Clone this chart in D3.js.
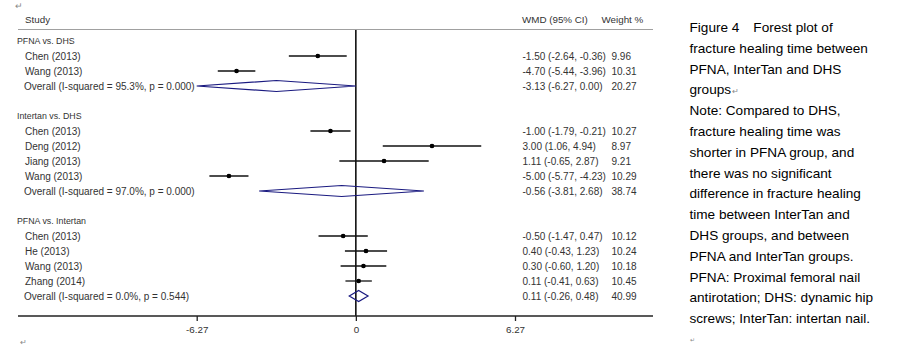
<!DOCTYPE html>
<html><head><meta charset="utf-8">
<script src="https://cdn.jsdelivr.net/npm/d3@7"></script>
<style>
html,body{margin:0;padding:0;background:#fff;}
svg{display:block;}
text{font-family:"Liberation Sans",Arial,sans-serif;}
</style></head>
<body>
<svg id="chart" width="901" height="348"></svg>
<script>
// ---------- data ----------
const groupNames = ["PFNA vs. DHS", "Intertan vs. DHS", "PFNA vs. Intertan"];
const studyGroup = [0, 0, 1, 1, 1, 1, 2, 2, 2, 2];
const studyNames = ["Chen (2013)", "Wang (2013)", "Chen (2013)", "Deng (2012)", "Jiang (2013)", "Wang (2013)", "Chen (2013)", "He (2013)", "Wang (2013)", "Zhang (2014)"];
const studyWMD  = [-1.50, -4.70, -1.00, 3.00, 1.11, -5.00, -0.50, 0.40, 0.30, 0.11];
const studyLow  = [-2.64, -5.44, -1.79, 1.06, -0.65, -5.77, -1.47, -0.43, -0.60, -0.41];
const studyHigh = [-0.36, -3.96, -0.21, 4.94, 2.87, -4.23, 0.47, 1.23, 1.20, 0.63];
const studyWeight = ["9.96", "10.31", "10.27", "8.97", "9.21", "10.29", "10.12", "10.24", "10.18", "10.45"];
const overallLabels = ["Overall (I-squared = 95.3%, p = 0.000)", "Overall (I-squared = 97.0%, p = 0.000)", "Overall (I-squared = 0.0%, p = 0.544)"];
const overallWMD  = [-3.13, -0.56, 0.11];
const overallLow  = [-6.27, -3.81, -0.26];
const overallHigh = [0.00, 2.68, 0.48];
const overallWeight = ["20.27", "38.74", "40.99"];
const axisTicks = [-6.27, 0, 6.27];
const captionLines = [
  "Figure 4\u3000Forest plot of",
  "fracture healing time between",
  "PFNA, InterTan and DHS",
  "groups",
  "Note: Compared to DHS,",
  "fracture healing time was",
  "shorter in PFNA group, and",
  "there was no significant",
  "difference in fracture healing",
  "time between InterTan and",
  "DHS groups, and between",
  "PFNA and InterTan groups.",
  "PFNA: Proximal femoral nail",
  "antirotation; DHS: dynamic hip",
  "screws; InterTan: intertan nail."
];

// ---------- build rows ----------
const rows = [];
groupNames.forEach((g, gi) => {
  rows.push({type: "group", label: g});
  studyNames.forEach((s, i) => {
    if (studyGroup[i] === gi) rows.push({type: "study", label: s, est: studyWMD[i], lo: studyLow[i], hi: studyHigh[i], w: studyWeight[i]});
  });
  rows.push({type: "overall", label: overallLabels[gi], est: overallWMD[gi], lo: overallLow[gi], hi: overallHigh[gi], w: overallWeight[gi]});
  if (gi < groupNames.length - 1) rows.push({type: "blank"});
});

const svg = d3.select("#chart");
const fmt = v => v.toFixed(2);
const textCol = "#333";

const x = d3.scaleLinear().domain([-6.27, 6.27]).range([196.7, 515]);
const y = d3.scalePoint().domain(d3.range(rows.length)).range([41, 41 + 15 * (rows.length - 1)]);
const axisY = 316;

// header
svg.append("text").attr("x", 25).attr("y", 22.5).attr("font-size", 9.8).attr("fill", textCol).text("Study");
svg.append("text").attr("x", 522).attr("y", 22.5).attr("font-size", 9.8).attr("fill", textCol).text("WMD (95% CI)");
svg.append("text").attr("x", 601.5).attr("y", 22.5).attr("font-size", 9.8).attr("fill", textCol).text("Weight %");
svg.append("line").attr("x1", 18).attr("x2", 653).attr("y1", 29.5).attr("y2", 29.5).attr("stroke", "#a0a0a0").attr("stroke-width", 1);

// zero line
svg.append("line").attr("x1", x(0)).attr("x2", x(0)).attr("y1", 30).attr("y2", axisY).attr("stroke", "#000").attr("stroke-width", 1.5);

const g = svg.append("g");
rows.forEach((r, i) => {
  const cy = y(i);
  if (r.type === "blank") return;
  if (r.type === "group") {
    g.append("text").attr("x", 17).attr("y", cy + 3.2).attr("font-size", 8.8).attr("fill", textCol).text(r.label);
    return;
  }
  const lx = r.type === "study" ? 25 : 24;
  g.append("text").attr("x", lx).attr("y", cy + 3.6).attr("font-size", 10).attr("fill", textCol).text(r.label);
  g.append("text").attr("x", 522.5).attr("y", cy + 3.6).attr("font-size", 10).attr("fill", textCol)
    .text(`${fmt(r.est)} (${fmt(r.lo)}, ${fmt(r.hi)})`);
  g.append("text").attr("x", 611.5).attr("y", cy + 3.6).attr("font-size", 10).attr("fill", textCol).text(r.w);
  if (r.type === "study") {
    g.append("line").attr("x1", x(r.lo)).attr("x2", x(r.hi)).attr("y1", cy).attr("y2", cy).attr("stroke", "#111").attr("stroke-width", 1.3);
    g.append("rect").attr("x", x(r.est) - 1.6).attr("y", cy - 1.6).attr("width", 3.2).attr("height", 3.2).attr("fill", "#333");
    g.append("circle").attr("cx", x(r.est)).attr("cy", cy).attr("r", 2.3).attr("fill", "#000");
  } else {
    const h = 5.5;
    const pts = [[x(r.lo), cy], [x(r.est), cy - h], [x(r.hi), cy], [x(r.est), cy + h]];
    g.append("path").attr("d", d3.line()(pts) + "Z").attr("fill", "none").attr("stroke", "#1a1a80").attr("stroke-width", 1.2);
  }
});

// x axis
svg.append("line").attr("x1", 18).attr("x2", 653).attr("y1", axisY).attr("y2", axisY).attr("stroke", "#222").attr("stroke-width", 1.3);
const ax = svg.append("g").attr("transform", `translate(0,${axisY})`)
  .call(d3.axisBottom(x).tickValues(axisTicks).tickSize(5).tickFormat(d => d === 0 ? "0" : d.toFixed(2)));
ax.select(".domain").remove();
ax.selectAll(".tick line").attr("stroke", "#222").attr("stroke-width", 1.3);
ax.selectAll(".tick text").attr("font-family", "Liberation Sans, Arial, sans-serif").attr("font-size", 9.8).attr("fill", textCol).attr("dy", "0.9em");

// paragraph marks
const mark = (px, py, s) => svg.append("text").attr("x", px).attr("y", py).attr("font-size", s).attr("fill", "#888").attr("font-family", "DejaVu Sans").text("\u21B5");
mark(15, 9, 9);
mark(20, 345, 8);

// caption
const cap = svg.append("g");
captionLines.forEach((t, i) => {
  cap.append("text").attr("x", 689.5).attr("y", 32 + i * 20.8).attr("font-size", 13.6).attr("fill", "#000")
    .text(t);
});
const gl = cap.select("text:nth-child(4)");
const gw = gl.node().getComputedTextLength();
mark(689.5 + gw + 1, 32 + 3 * 20.8, 8);
mark(689.5, 32 + 15 * 20.8 - 2, 6);
</script>
</body></html>
